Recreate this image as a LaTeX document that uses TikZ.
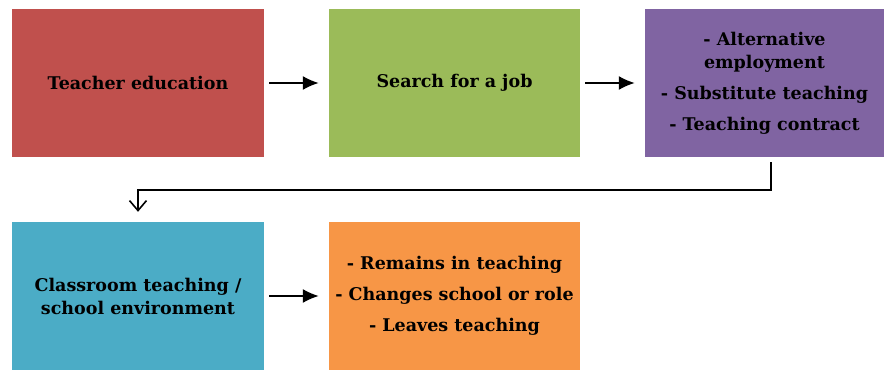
\documentclass[tikz,border=0pt]{standalone}
\usepackage{fontspec}
\setmainfont{DejaVu Serif}
\usetikzlibrary{arrows.meta}
\definecolor{boxred}{HTML}{C0504D}
\definecolor{boxgreen}{HTML}{9BBB59}
\definecolor{boxpurple}{HTML}{8064A2}
\definecolor{boxteal}{HTML}{4BACC6}
\definecolor{boxorange}{HTML}{F79646}
\tikzset{
  stage/.style={minimum width=252pt, minimum height=148pt, inner sep=0pt, align=center,
    font=\fontsize{17.5}{23}\selectfont\bfseries},
  flow/.style={-{Latex[length=16pt,width=14pt]}, line width=1.6pt},
  turn/.style={-{Straight Barb[length=10pt,width=17pt]}, line width=1.6pt}
}
\begin{document}
\begin{tikzpicture}[x=1pt, y=-1pt]
  \useasboundingbox (0,0) rectangle (884,371);

  \node [stage, fill=boxred] (edu) at (138, 83) {Teacher education};
  \node [stage, fill=boxgreen, minimum width=251pt] (job) at (454.5, 83) {Search for a job};
  \node [stage, fill=boxpurple, minimum width=239pt] (emp) at (764.5, 83)
    {- Alternative\\employment\\[8pt]- Substitute teaching\\[8pt]- Teaching contract};

  \node [stage, fill=boxteal] (class) at (138, 296) {Classroom teaching /\\school environment};
  \node [stage, fill=boxorange, minimum width=251pt] (out) at (454.5, 296)
    {- Remains in teaching\\[8pt]- Changes school or role\\[8pt]- Leaves teaching};

  \draw [flow] ([xshift=5pt]edu.east) -- ([xshift=-10pt]job.west);
  \draw [flow] ([xshift=5pt]job.east) -- ([xshift=-10pt]emp.west);
  \draw [flow] ([xshift=5pt]class.east) -- ([xshift=-10pt]out.west);

  \coordinate (bend) at (771, 190);
  \draw [turn] ([yshift=-5pt]emp.south -| bend) -- (bend) -- (bend -| class.north)
    -- ([yshift=10pt]class.north);
\end{tikzpicture}
\end{document}
